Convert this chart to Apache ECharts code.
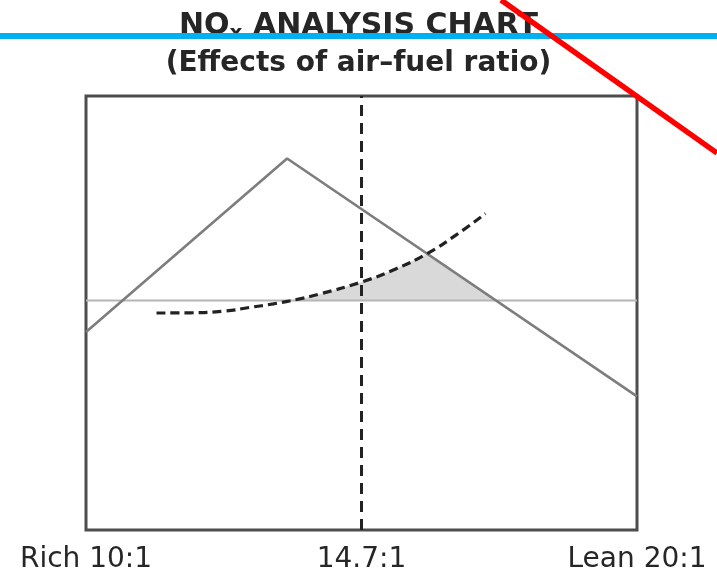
<!DOCTYPE html>
<html>
<head>
<meta charset="utf-8">
<style>
html,body{margin:0;padding:0;background:#fff;}
#c{width:717px;height:569px;}
</style>
<script src="https://cdn.jsdelivr.net/npm/echarts@6/dist/echarts.min.js"></script>
</head>
<body>
<div id="c"></div>
<script>
// Axis tick positions (0..100 scale across plot) and labels
const tickValues = [0, 50, 100];
const tickLabels = ['Rich 10:1', '14.7:1', 'Lean 20:1'];

// Solid gray "triangle" curve
const triX = [0, 36.5, 100];
const triY = [45.6, 85.6, 30.8];

// Light horizontal reference line
const refX = [0, 100];
const refY = [52.9, 52.9];

// Vertical dashed stoichiometric line
const stoX = [50, 50];
const stoY = [0, 100];

// Dashed rising curve
const curveX = [12.8, 18.9, 24.9, 29.8, 34.0, 38.2, 42.5, 49.9, 56.1, 61.8, 67.2, 72.5];
const curveY = [50.0, 50.05, 50.4, 51.3, 52.1, 53.1, 54.4, 57.1, 60.1, 63.6, 68.0, 72.9];

// Shaded region boundary (above the reference line)
const fillX = [37.4, 40.0, 42.5, 46.0, 49.9, 53.0, 56.1, 59.0, 61.8, 74.6];
const fillY = [52.9, 53.6, 54.4, 55.6, 57.1, 58.5, 60.1, 61.8, 63.6, 52.9];

const pairs = (xs, ys) => xs.map((x, i) => [x, ys[i]]);

const chart = echarts.init(document.getElementById('c'), null, {renderer: 'canvas'});
const FONT = 'DejaVu Sans';

chart.setOption({
  animation: false,
  backgroundColor: '#ffffff',
  title: {
    left: 'center',
    top: 6,
    itemGap: 5,
    text: '{a|NO}{s|x}{a| ANALYSIS CHART}',
    subtext: '(Effects of air\u2013fuel ratio)',
    textStyle: {
      rich: {
        a: {fontFamily: FONT, fontSize: 30, fontWeight: 'bold', color: '#262626', lineHeight: 31, verticalAlign: 'top'},
        s: {fontFamily: FONT, fontSize: 20, fontWeight: 'bold', color: '#262626', lineHeight: 20, verticalAlign: 'top', padding: [13, 0, 0, 0]}
      }
    },
    subtextStyle: {fontFamily: FONT, fontSize: 28, fontWeight: 'bold', color: '#262626', lineHeight: 30}
  },
  grid: {
    left: 86, right: 80, top: 96, bottom: 39,
    containLabel: false,
    outerBoundsMode: 'none',
    show: true, borderColor: '#4d4d4d', borderWidth: 3, backgroundColor: 'transparent'
  },
  xAxis: {
    type: 'value', min: 0, max: 100, interval: 50,
    axisLine: {show: false}, axisTick: {show: false}, splitLine: {show: false},
    axisLabel: {
      margin: 16,
      fontFamily: FONT, fontSize: 28, color: '#262626',
      formatter: v => { const i = tickValues.indexOf(v); return i >= 0 ? tickLabels[i] : ''; }
    }
  },
  yAxis: {
    type: 'value', min: 0, max: 100,
    show: false, splitLine: {show: false}
  },
  graphic: [
    {type: 'line', z: 100, shape: {x1: 0, y1: 36, x2: 717, y2: 36}, style: {stroke: '#00b0f0', lineWidth: 6}},
    {type: 'line', z: 101, shape: {x1: 501, y1: 0, x2: 717, y2: 153}, style: {stroke: '#ff0000', lineWidth: 5.5}}
  ],
  series: [
    {
      type: 'custom',
      name: 'shade',
      z: 1,
      data: [[fillX[0], fillY[0]]],
      clip: false,
      renderItem: function (params, api) {
        const pts = fillX.map((x, i) => api.coord([x, fillY[i]]));
        return {type: 'polygon', shape: {points: pts}, style: {fill: '#d9d9d9', stroke: null}};
      },
      silent: true
    },
    {
      type: 'line', name: 'ref', z: 2, data: pairs(refX, refY), symbol: 'none', silent: true,
      lineStyle: {color: '#b5b5b5', width: 2}
    },
    {
      type: 'line', name: 'tri', z: 3, data: pairs(triX, triY), symbol: 'none', silent: true,
      lineStyle: {color: '#7d7d7d', width: 2.6}
    },
    {
      type: 'line', name: 'curve', z: 4, data: pairs(curveX, curveY), symbol: 'none', smooth: true, silent: true,
      lineStyle: {color: '#222222', width: 3.2, type: [9, 5]}
    },
    {
      type: 'line', name: 'sto', z: 5, data: pairs(stoX, stoY), symbol: 'none', silent: true, clip: false,
      lineStyle: {color: '#222222', width: 3, type: [11, 7]}
    }
  ]
});
</script>
</body>
</html>
